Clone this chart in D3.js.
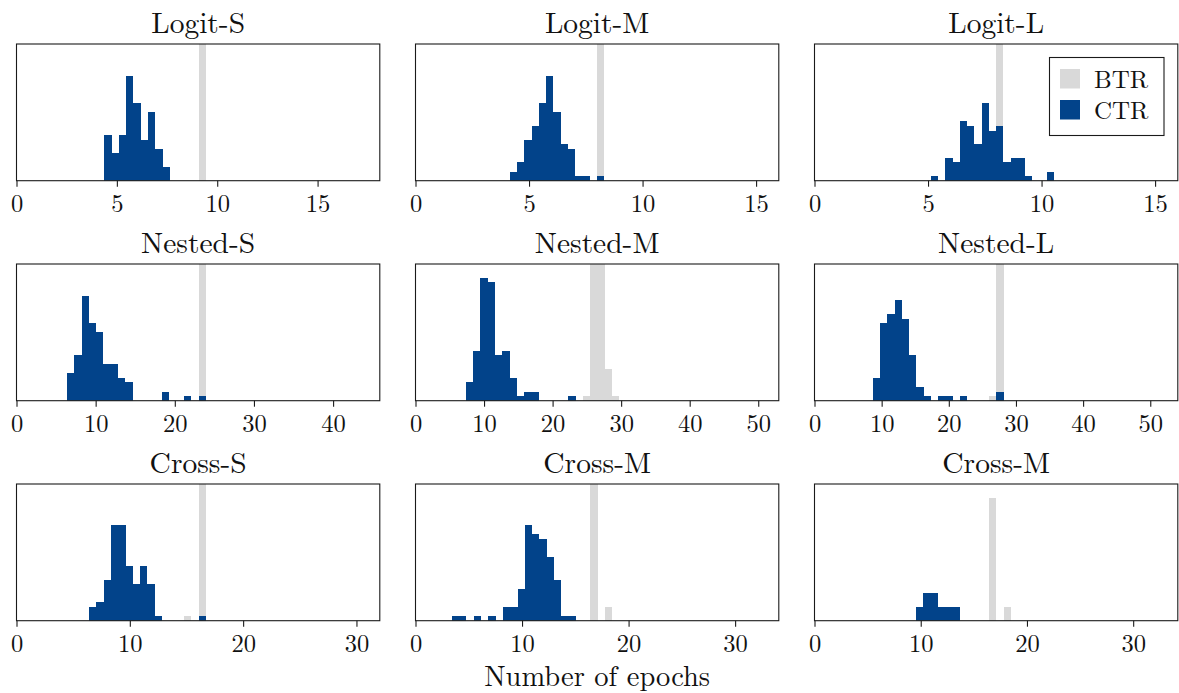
<!DOCTYPE html>
<html>
<head>
<meta charset="utf-8">
<script src="https://cdn.jsdelivr.net/npm/d3@7"></script>
<style>
  html, body { margin: 0; padding: 0; background: #fff; }
  svg { display: block; }
  text { font-family: "Latin Modern Roman", "CMU Serif", "Liberation Serif", serif; fill: #111; }
</style>
</head>
<body>
<svg id="chart" width="1179" height="693"></svg>
<script>
// ---------------- data ----------------
const titles = ["Logit-S", "Logit-M", "Logit-L",
                "Nested-S", "Nested-M", "Nested-L",
                "Cross-S", "Cross-M", "Cross-M"];
const xMax = [18.1, 16, 16, 45.9, 53, 54.1, 32.06, 34.1, 34.2];
const xTicks = [
  [0, 5, 10, 15], [0, 5, 10, 15], [0, 5, 10, 15],
  [0, 10, 20, 30, 40], [0, 10, 20, 30, 40, 50], [0, 10, 20, 30, 40, 50],
  [0, 10, 20, 30], [0, 10, 20, 30], [0, 10, 20, 30]
];
const binStart = [4.38, 4.15, 5.12, 6.37, 7.34, 8.68, 6.40, 3.41, 9.54];
const binWidth = [0.362, 0.32, 0.32, 0.924, 1.067, 1.083, 0.645, 0.685, 0.69];
const ctrCounts = [
  [10, 6, 10, 23, 17, 9, 15, 7, 3],
  [2, 4, 9, 12, 17, 23, 15, 8, 7, 1, 1, 0, 1],
  [1, 0, 5, 4, 13, 12, 8, 17, 11, 12, 4, 5, 5, 1, 0, 0, 2],
  [6, 10, 23, 17, 15, 8, 8, 5, 4, 0, 0, 0, 0, 2, 0, 0, 1, 0, 1],
  [4, 11, 27, 26, 10, 11, 5, 1, 2, 2, 0, 0, 0, 0, 1],
  [5, 17, 19, 22, 18, 10, 3, 1, 0, 1, 1, 0, 1, 0, 0, 0, 0, 2],
  [3, 4, 9, 21, 21, 12, 8, 12, 8, 1, 0, 0, 0, 0, 0, 1],
  [1, 1, 0, 1, 0, 1, 0, 3, 3, 7, 21, 19, 18, 14, 9, 1, 1],
  [3, 6, 6, 3, 3, 3]
];
const btrCounts = [
  [0, 0, 0, 0, 0, 0, 0, 0, 0, 0, 0, 0, 0, 100],
  [0, 0, 0, 0, 0, 0, 0, 0, 0, 0, 0, 0, 100],
  [0, 0, 0, 0, 0, 0, 0, 0, 0, 100],
  [0, 0, 0, 0, 0, 0, 0, 0, 0, 0, 0, 0, 0, 0, 0, 0, 0, 0, 100],
  [0, 0, 0, 0, 0, 0, 0, 0, 0, 0, 0, 0, 0, 0, 0, 0, 1, 45, 46, 7, 1],
  [0, 0, 0, 0, 0, 0, 0, 0, 0, 0, 0, 0, 0, 0, 0, 0, 1, 99],
  [0, 0, 0, 0, 0, 0, 0, 0, 0, 0, 0, 0, 0, 1, 0, 99],
  [0, 0, 0, 0, 0, 0, 0, 0, 0, 0, 0, 0, 0, 0, 0, 0, 0, 0, 0, 97, 0, 3],
  [0, 0, 0, 0, 0, 0, 0, 0, 0, 0, 27, 0, 3]
];
const yMax = 30;
const seriesNames = ["BTR", "CTR"];
const seriesColors = ["#d9d9d9", "#02438a"];
const xLabel = "Number of epochs";

// ---------------- layout ----------------
const colLeft = [16.5, 415.5, 814.5];
const rowTop = [44, 264, 484];
const panelW = 363.3, panelH = 136.7;
const spineColor = "#1a1a1a";
const tickFont = 24.5, titleFont = 29.5, labelFont = 28.5;

const svg = d3.select("#chart");

titles.forEach((title, p) => {
  const col = p % 3, row = Math.floor(p / 3);
  const g = svg.append("g")
    .attr("transform", `translate(${colLeft[col]},${rowTop[row]})`);

  const x = d3.scaleLinear().domain([0, xMax[p]]).range([0, panelW]);
  const y = d3.scaleLinear().domain([0, yMax]).range([panelH, 0]);

  const clipId = "clip" + p;
  g.append("clipPath").attr("id", clipId)
    .append("rect").attr("width", panelW).attr("height", panelH);

  const plot = g.append("g").attr("clip-path", `url(#${clipId})`);

  [btrCounts[p], ctrCounts[p]].forEach((counts, s) => {
    const bins = counts.map((c, i) => ({
      x0: binStart[p] + i * binWidth[p],
      x1: binStart[p] + (i + 1) * binWidth[p],
      c
    })).filter(d => d.c > 0);
    plot.append("g").attr("shape-rendering", "crispEdges")
      .selectAll("rect").data(bins).join("rect")
      .attr("x", d => x(d.x0))
      .attr("width", d => x(d.x1) - x(d.x0))
      .attr("y", d => y(d.c))
      .attr("height", d => y(0) - y(d.c))
      .attr("fill", seriesColors[s]);
  });

  // frame
  g.append("rect")
    .attr("width", panelW).attr("height", panelH)
    .attr("fill", "none").attr("stroke", spineColor).attr("stroke-width", 1.1);

  // x axis
  const ax = g.append("g")
    .attr("transform", `translate(0,${panelH})`)
    .call(d3.axisBottom(x).tickValues(xTicks[p]).tickSize(6).tickPadding(8)
      .tickFormat(d3.format("d")));
  ax.attr("font-family", null).attr("font-size", null);
  ax.select(".domain").remove();
  ax.selectAll(".tick line").attr("stroke", spineColor).attr("stroke-width", 1.1);
  ax.selectAll(".tick text")
    .style("font-size", tickFont + "px").attr("fill", "#111");

  // title
  g.append("text")
    .attr("x", panelW / 2).attr("y", -10.7)
    .attr("text-anchor", "middle")
    .style("font-size", titleFont + "px")
    .text(title);
});

// x label
svg.append("text")
  .attr("x", colLeft[1] + panelW / 2).attr("y", 686)
  .attr("text-anchor", "middle")
  .style("font-size", labelFont + "px")
  .text(xLabel);

// legend (in Logit-L panel)
const lg = svg.append("g").attr("transform", "translate(1049.5,57.5)");
lg.append("rect").attr("width", 114.5).attr("height", 78)
  .attr("fill", "#fff").attr("stroke", spineColor).attr("stroke-width", 1.1);
seriesNames.forEach((name, i) => {
  lg.append("rect")
    .attr("x", 10.5).attr("y", 11.5 + i * 31)
    .attr("width", 20).attr("height", 19.5)
    .attr("fill", seriesColors[i]);
  lg.append("text")
    .attr("x", 44.5).attr("y", 30.8 + i * 31)
    .style("font-size", (tickFont + 0.5) + "px")
    .text(name);
});
</script>
</body>
</html>
